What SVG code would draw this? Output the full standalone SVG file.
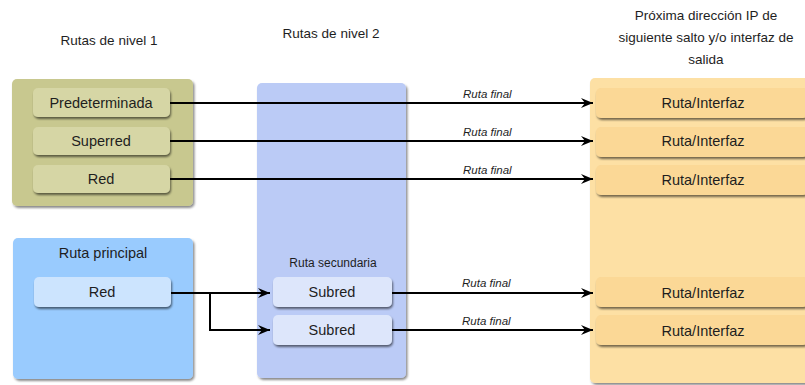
<svg xmlns="http://www.w3.org/2000/svg" width="805" height="385" viewBox="0 0 805 385">
<defs>
<filter id="sh" x="-10%" y="-10%" width="125%" height="130%">
<feDropShadow dx="1.5" dy="2" stdDeviation="1.2" flood-color="#000" flood-opacity="0.45"/>
</filter>
<filter id="bs" x="-10%" y="-20%" width="125%" height="150%">
<feDropShadow dx="1" dy="2" stdDeviation="0.9" flood-color="#000" flood-opacity="0.55"/>
</filter>
<marker id="ah" viewBox="0 0 12 10" refX="12" refY="5" markerWidth="12" markerHeight="10" markerUnits="userSpaceOnUse" orient="auto">
<path d="M0,0 L12,5 L0,10 L4,5 Z" fill="#000"/>
</marker>
</defs>
<style>
text{font-family:"Liberation Sans",Arial,sans-serif;fill:#1e1e1e;}
.hd{font-size:13.5px;text-anchor:middle;}
.bt{font-size:14.5px;text-anchor:middle;}
.lb{font-size:11.5px;font-style:italic;}
.panel{filter:url(#sh);}
.btn{filter:url(#bs);}
.ln{stroke:#000;stroke-width:2;fill:none;}
</style>
<rect width="805" height="385" fill="#fff"/>

<text class="hd" x="109" y="45">Rutas de nivel 1</text>
<text class="hd" x="331" y="38">Rutas de nivel 2</text>
<text class="hd" x="706" y="20">Próxima dirección IP de</text>
<text class="hd" x="706" y="42">siguiente salto y/o interfaz de</text>
<text class="hd" x="706" y="64">salida</text>

<g id="nivel1">
<rect class="panel" x="12" y="79" width="181" height="127" rx="5" fill="#c8c88f"/>
</g>
<g id="principal">
<rect class="panel" x="13" y="238" width="180" height="141" rx="5" fill="#99cbfe"/>
<text class="bt" x="103" y="258">Ruta principal</text>
</g>
<g id="nivel2">
<rect class="panel" x="257" y="83" width="149" height="295" rx="5" fill="#bbcbf6"/>
<text class="bt" x="333" y="267" style="font-size:12px">Ruta secundaria</text>
</g>
<g id="salida">
<rect class="panel" x="590" y="78" width="225" height="305" rx="5" fill="#fde0a4"/>
</g>

<g id="predeterminada"><rect class="btn" x="33" y="88" width="137" height="29" rx="5" fill="#d6d6a5"/><text class="bt" x="101" y="108">Predeterminada</text></g>
<g id="superred"><rect class="btn" x="33" y="127" width="137" height="28" rx="5" fill="#d6d6a5"/><text class="bt" x="101" y="146">Superred</text></g>
<g id="red1"><rect class="btn" x="33" y="165" width="137" height="28" rx="5" fill="#d6d6a5"/><text class="bt" x="101" y="184">Red</text></g>
<g id="red2"><rect class="btn" x="34" y="277" width="137" height="30" rx="5" fill="#cce4fe"/><text class="bt" x="102" y="297">Red</text></g>
<g id="subred1"><rect class="btn" x="273" y="277" width="119" height="30" rx="5" fill="#dde6fb"/><text class="bt" x="332" y="297">Subred</text></g>
<g id="subred2"><rect class="btn" x="273" y="315" width="119" height="30" rx="5" fill="#dde6fb"/><text class="bt" x="332" y="335">Subred</text></g>
<g id="ri1"><rect class="btn" x="596" y="88" width="212" height="30" rx="5" fill="#fbd896"/><text class="bt" x="703" y="108">Ruta/Interfaz</text></g>
<g id="ri2"><rect class="btn" x="596" y="127" width="212" height="30" rx="5" fill="#fbd896"/><text class="bt" x="703" y="146">Ruta/Interfaz</text></g>
<g id="ri3"><rect class="btn" x="596" y="165" width="212" height="30" rx="5" fill="#fbd896"/><text class="bt" x="703" y="185">Ruta/Interfaz</text></g>
<g id="ri4"><rect class="btn" x="596" y="277" width="212" height="30" rx="5" fill="#fbd896"/><text class="bt" x="703" y="298">Ruta/Interfaz</text></g>
<g id="ri5"><rect class="btn" x="596" y="315" width="212" height="30" rx="5" fill="#fbd896"/><text class="bt" x="703" y="336">Ruta/Interfaz</text></g>

<g id="connectors">
<path class="ln" d="M170,103 H593" marker-end="url(#ah)"/>
<path class="ln" d="M170,141 H593" marker-end="url(#ah)"/>
<path class="ln" d="M170,179 H593" marker-end="url(#ah)"/>
<path class="ln" d="M171,293 H270" marker-end="url(#ah)"/>
<path class="ln" d="M210,293 V330 H270" marker-end="url(#ah)"/>
<path class="ln" d="M392,293 H593" marker-end="url(#ah)"/>
<path class="ln" d="M392,330 H593" marker-end="url(#ah)"/>
<text class="lb" x="463" y="98">Ruta final</text>
<text class="lb" x="463" y="136">Ruta final</text>
<text class="lb" x="463" y="174">Ruta final</text>
<text class="lb" x="462" y="287">Ruta final</text>
<text class="lb" x="462" y="325">Ruta final</text>
</g>
</svg>
